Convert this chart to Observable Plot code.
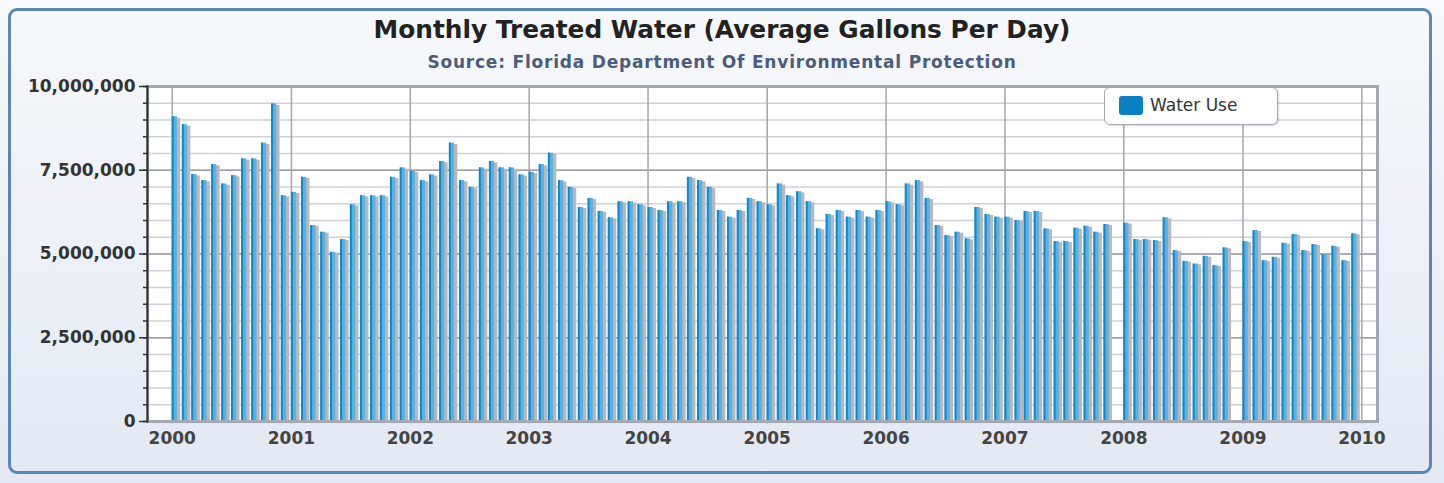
<!DOCTYPE html>
<html>
<head>
<meta charset="utf-8">
<script src="https://cdn.jsdelivr.net/npm/d3@7"></script>
<script src="https://cdn.jsdelivr.net/npm/@observablehq/plot@0.6"></script>
<style>
  html, body { margin: 0; padding: 0; width: 1444px; height: 483px; overflow: hidden; background: #e8ecf3; }
  #wrap { position: relative; width: 1444px; height: 483px; font-family: "DejaVu Sans", sans-serif;
          background: linear-gradient(#f7f8fb, #e3e8f1); }
  #border { position: absolute; left: 8px; top: 8px; width: 1424px; height: 466px; border: 3px solid #5b87b6; border-radius: 9px; box-sizing: border-box; }
  #title { position: absolute; left: 0; width: 1444px; top: 15px; text-align: center; font-weight: bold; font-size: 24.8px; color: #222; }
  #subtitle { position: absolute; left: 0; width: 1444px; top: 52px; text-align: center; font-weight: bold; font-size: 17px; letter-spacing: 0.8px; color: #4c5c7e; }
  #chart { position: absolute; left: 0; top: 70px; }
  #legend { position: absolute; left: 1104px; top: 87px; width: 174px; height: 38px; background: #fff; border: 1.5px solid #a8a8b0; border-radius: 6px; box-sizing: border-box; box-shadow: 1px 1px 2px rgba(0,0,0,0.15); }
  #legend .sw { position: absolute; left: 14px; top: 8px; width: 24px; height: 19px; background: #0a80c2; border-radius: 3px; }
  #legend .lb { position: absolute; left: 45px; top: 7px; font-size: 17px; color: #333; }
</style>
</head>
<body>
<div id="wrap">
  <div id="border"></div>
  <div id="title">Monthly Treated Water (Average Gallons Per Day)</div>
  <div id="subtitle">Source: Florida Department Of Environmental Protection</div>
  <div id="chart"></div>
  <div id="legend"><div class="sw"></div><div class="lb">Water Use</div></div>
</div>
<script>
// Monthly average gallons per day (Jan..Dec), null = no data
const years = [2000, 2001, 2002, 2003, 2004, 2005, 2006, 2007, 2008, 2009];
const use2000 = [9100000, 8860000, 7370000, 7190000, 7670000, 7090000, 7340000, 7840000, 7840000, 8310000, 9480000, 6740000];
const use2001 = [6840000, 7290000, 5850000, 5650000, 5050000, 5430000, 6470000, 6740000, 6740000, 6740000, 7290000, 7570000];
const use2002 = [7470000, 7190000, 7360000, 7760000, 8310000, 7190000, 6990000, 7570000, 7760000, 7570000, 7570000, 7360000];
const use2003 = [7440000, 7670000, 8010000, 7190000, 6990000, 6390000, 6660000, 6270000, 6080000, 6560000, 6560000, 6470000];
const use2004 = [6390000, 6300000, 6560000, 6560000, 7290000, 7190000, 6990000, 6300000, 6100000, 6300000, 6660000, 6560000];
const use2005 = [6470000, 7090000, 6740000, 6860000, 6560000, 5750000, 6180000, 6300000, 6100000, 6300000, 6100000, 6300000];
const use2006 = [6560000, 6470000, 7090000, 7190000, 6660000, 5850000, 5550000, 5650000, 5450000, 6390000, 6180000, 6100000];
const use2007 = [6100000, 6000000, 6270000, 6270000, 5750000, 5370000, 5370000, 5770000, 5830000, 5650000, 5880000, null];
const use2008 = [5920000, 5430000, 5430000, 5400000, 6080000, 5100000, 4780000, 4700000, 4930000, 4650000, 5180000, null];
const use2009 = [5370000, 5700000, 4800000, 4900000, 5320000, 5580000, 5100000, 5280000, 4980000, 5230000, 4800000, 5600000];
const yMajorTicks = [0, 2500000, 5000000, 7500000, 10000000];
const yMinorTicks = d3.range(0, 10000001, 500000);
const xTickYears = [2000, 2001, 2002, 2003, 2004, 2005, 2006, 2007, 2008, 2009, 2010];

const perYear = [use2000, use2001, use2002, use2003, use2004, use2005, use2006, use2007, use2008, use2009];
const data = [];
years.forEach((yr, i) => perYear[i].forEach((v, m) => {
  if (v == null) return;
  const date = new Date(Date.UTC(yr, m, 1));
  data.push({date, value: v,
    x1: date, x2: d3.utcDay.offset(date, 16),
    e2: d3.utcDay.offset(date, 6),
    s1: d3.utcDay.offset(date, 8), s2: d3.utcDay.offset(date, 26)});
}));
const yearDates = xTickYears.map(y => new Date(Date.UTC(y, 0, 1)));

const chart = Plot.plot({
  width: 1444,
  height: 390,
  marginLeft: 147,
  marginRight: 67,
  marginTop: 16,
  marginBottom: 39,
  style: {fontFamily: "DejaVu Sans, sans-serif", background: "transparent", overflow: "visible"},
  x: {type: "utc", domain: [new Date(Date.UTC(1999, 9, 17)), new Date(Date.UTC(2010, 1, 18))], label: null},
  y: {domain: [0, 10000000], label: null},
  marks: [
    Plot.frame({fill: "white", stroke: null}),
    Plot.gridY(yMinorTicks, {stroke: "#cfd1d6", strokeOpacity: 1, strokeWidth: 1.5}),
    Plot.gridY(yMajorTicks, {stroke: "#9a9ca2", strokeOpacity: 1, strokeWidth: 1.5}),
    Plot.gridX(yearDates, {stroke: "#a4a6ac", strokeOpacity: 1, strokeWidth: 1.5}),
    Plot.rectY(data, {x1: "s1", x2: "s2", y: d => d.value * 0.995, fill: "#b5b9c1"}),
    Plot.rectY(data, {x1: "x1", x2: "x2", y: "value", fill: "#5fb0dc"}),
    Plot.rectY(data, {x1: "x1", x2: "e2", y: "value", fill: "#0f88cb"}),
    Plot.frame({stroke: "#a3a7af", strokeWidth: 3}),
    Plot.axisY(yMinorTicks, {tickSize: 4, tickFormat: () => "", label: null, stroke: "#333", strokeWidth: 1.5}),
    Plot.axisY(yMajorTicks, {tickSize: 8, tickPadding: 4, label: null, tickFormat: d3.format(","), fontSize: 17, fontWeight: "bold", fill: "#333", stroke: "#333", strokeWidth: 1.5, style: {letterSpacing: "0.4px"}}),
    Plot.frame({anchor: "left", stroke: "#333", strokeWidth: 2}),
    Plot.axisX(yearDates, {tickSize: 3, tickPadding: 7, label: null, tickFormat: d3.utcFormat("%Y"), fontSize: 17, fontWeight: "bold", fill: "#444", stroke: "#8cc0e0"})
  ]
});
document.getElementById("chart").appendChild(chart);
</script>
</body>
</html>
